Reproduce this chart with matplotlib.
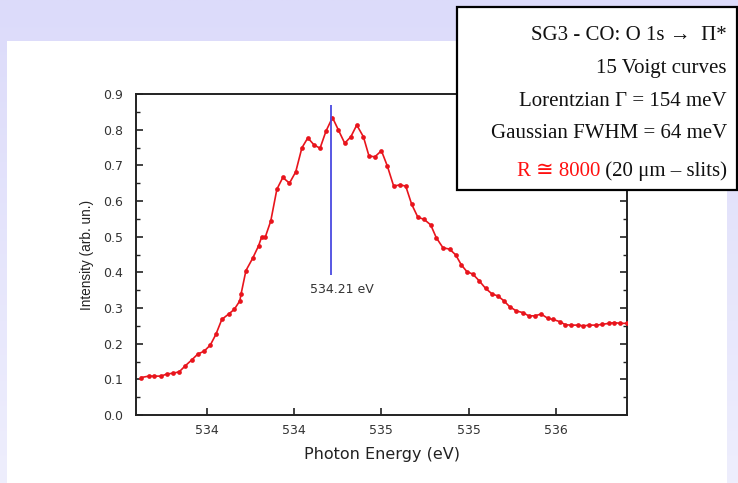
import numpy as np
import matplotlib
matplotlib.use("Agg")
import matplotlib.pyplot as plt
from matplotlib.patches import Rectangle
from matplotlib.ticker import MultipleLocator, FixedLocator

# ---------------- data ----------------
energy = [533.125, 533.169, 533.201, 533.239, 533.273, 533.306, 533.343, 533.378,
          533.414, 533.450, 533.486, 533.521, 533.553, 533.587, 533.626, 533.658,
          533.690, 533.697, 533.725, 533.763, 533.797, 533.814, 533.835, 533.867,
          533.902, 533.936, 533.974, 534.010, 534.045, 534.079, 534.115, 534.149,
          534.183, 534.220, 534.254, 534.290, 534.325, 534.359, 534.397, 534.429,
          534.463, 534.500, 534.534, 534.570, 534.605, 534.639, 534.673, 534.709,
          534.743, 534.782, 534.814, 534.852, 534.890, 534.925, 534.957, 534.989,
          535.023, 535.058, 535.096, 535.134, 535.166, 535.201, 535.233, 535.271,
          535.309, 535.343, 535.376, 535.414, 535.452, 535.481, 535.519, 535.553,
          535.586, 535.623, 535.656, 535.690, 535.729, 535.763, 535.801, 535.833,
          535.866, 535.903]
intensity = [0.105, 0.109, 0.109, 0.109, 0.115, 0.117, 0.121, 0.138,
             0.154, 0.171, 0.179, 0.196, 0.226, 0.268, 0.283, 0.296,
             0.320, 0.339, 0.405, 0.439, 0.474, 0.498, 0.498, 0.544,
             0.633, 0.666, 0.650, 0.682, 0.749, 0.777, 0.757, 0.748,
             0.796, 0.834, 0.799, 0.762, 0.780, 0.813, 0.780, 0.726,
             0.724, 0.741, 0.698, 0.642, 0.645, 0.642, 0.591, 0.554,
             0.549, 0.533, 0.497, 0.469, 0.465, 0.449, 0.421, 0.402,
             0.395, 0.377, 0.355, 0.339, 0.334, 0.320, 0.304, 0.292,
             0.287, 0.278, 0.278, 0.283, 0.271, 0.268, 0.262, 0.253,
             0.252, 0.252, 0.250, 0.252, 0.252, 0.254, 0.257, 0.259,
             0.257, 0.257]

xtick_values = [533.5, 534.0, 534.5, 535.0, 535.5]
xtick_labels = ["534", "534", "535", "535", "536"]
ytick_values = [0.0, 0.1, 0.2, 0.3, 0.4, 0.5, 0.6, 0.7, 0.8, 0.9]

peak_energy = 534.21
peak_label = "534.21 eV"
peak_range = (0.392, 0.869)

box_lines = ["SG3 - CO: O 1s \u2192  \u03a0*",
             "15 Voigt curves",
             "Lorentzian \u0393 = 154 meV",
             "Gaussian FWHM = 64 meV"]
box_red = "R \u2245 8000"
box_black = " (20 \u03bcm \u2013 slits)"

# ---------------- figure ----------------
W, H = 738, 483
fig = plt.figure(figsize=(W / 100, H / 100), dpi=100)

# background gradient
bg = fig.add_axes([0, 0, 1, 1], zorder=-10)
bg.set_axis_off()
top = np.array([220, 219, 250]) / 255
bot = np.array([238, 238, 253]) / 255
t = np.linspace(0, 1, 200)[:, None]
grad = top[None, None, :] * (1 - t[:, :, None]) + bot[None, None, :] * t[:, :, None]
grad = np.repeat(grad, 2, axis=1)
bg.imshow(grad, aspect="auto", extent=[0, 1, 0, 1], origin="upper")
bg.set_xlim(0, 1)
bg.set_ylim(0, 1)
# white panel
bg.add_patch(Rectangle((7 / W, 0), (727 - 7) / W, (H - 41) / H,
                       facecolor="white", edgecolor="none"))

wide = ["DejaVu Sans"]
sans = ["Liberation Sans", "DejaVu Sans"]
serif = ["Liberation Serif", "DejaVu Serif", "DejaVu Sans"]

ax = fig.add_axes([136 / W, 1 - 415 / H, (627 - 136) / W, (415 - 94) / H])
ax.plot(energy, intensity, color="#e8141c", lw=1.2, marker="o",
        markersize=3.4, markeredgewidth=0, zorder=3)
ax.vlines(peak_energy, peak_range[0], peak_range[1], color="#4a4ae0",
          lw=1.3, zorder=4)
ax.annotate(peak_label, xy=(peak_energy, peak_range[0]), xytext=(8, -10),
            textcoords="offset points", ha="center", va="center",
            fontsize=9, color="#333333", family=wide)

ax.set_xlim(533.096, 535.905)
ax.set_ylim(0.0, 0.9)
ax.xaxis.set_major_locator(FixedLocator(xtick_values))
ax.set_xticklabels(xtick_labels)
ax.yaxis.set_major_locator(FixedLocator(ytick_values))
ax.set_yticklabels([f"{v:.1f}" for v in ytick_values])
ax.yaxis.set_minor_locator(MultipleLocator(0.05))
ax.tick_params(axis="both", which="both", direction="in", colors="#222222",
               labelcolor="#333333", labelsize=9)
ax.tick_params(axis="y", which="both", right=True, pad=9)
ax.tick_params(axis="x", which="both", pad=6.5)
ax.tick_params(axis="both", which="major", length=5, width=1.2)
ax.tick_params(axis="y", which="minor", length=3, width=1.0)
for lab in ax.get_xticklabels() + ax.get_yticklabels():
    lab.set_family(wide)
for sp in ax.spines.values():
    sp.set_linewidth(1.4)
    sp.set_color("#222222")
ax.set_xlabel("Photon Energy (eV)", fontsize=11.5, family=wide, color="#222222",
              labelpad=7)
ax.set_ylabel("Intensity (arb. un.)", fontsize=9.8, family=sans, color="#222222",
              labelpad=7)

# annotation box (figure-level, above the axes)
box = Rectangle((457 / W, 1 - 190 / H), (737 - 457) / W, (190 - 7) / H,
                transform=fig.transFigure, facecolor="white",
                edgecolor="black", lw=1.6, zorder=20)
fig.add_artist(box)
baselines = [40, 73, 106, 138]
fs = 15
for txt, yb in zip(box_lines, baselines):
    fig.text(727 / W, 1 - yb / H, txt, ha="right", va="baseline",
             fontsize=fs, family=serif, color="#111111", zorder=30)
yb5 = 1 - 176 / H
black = fig.text(727 / W, yb5, box_black, ha="right", va="baseline",
                 fontsize=fs, family=serif, color="#111111", zorder=30)
fig.canvas.draw()
bb = black.get_window_extent(fig.canvas.get_renderer())
fig.text(bb.x0 / W, yb5, box_red, ha="right", va="baseline",
         fontsize=fs, family=serif, color="#ff1010", zorder=30)

fig.savefig("out.png", dpi=100)
